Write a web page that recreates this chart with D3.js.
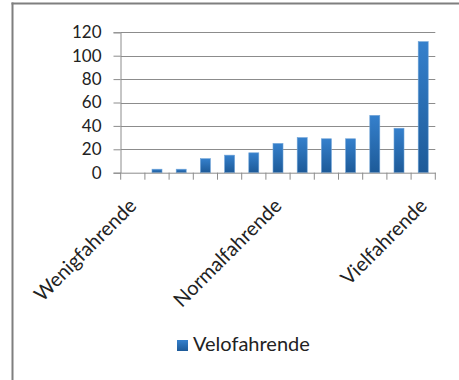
<!DOCTYPE html>
<html>
<head>
<meta charset="utf-8">
<script src="https://cdn.jsdelivr.net/npm/d3@7"></script>
<style>
  html, body { margin: 0; padding: 0; background: #fff; }
  svg { display: block; }
  text { font-family: Lato, "Open Sans", sans-serif; fill: #222; }
</style>
</head>
<body>
<script>
// ---- data ----
const categories = ["Wenigfahrende", "c2", "c3", "c4", "c5", "c6", "Normalfahrende", "c8", "c9", "c10", "c11", "c12", "Vielfahrende"];
const shownLabels = ["Wenigfahrende", "Normalfahrende", "Vielfahrende"];
const values = [0, 3, 3, 12, 15, 17, 25, 30, 29, 29, 49, 38, 112];
const seriesName = "Velofahrende";
const yTicks = [0, 20, 40, 60, 80, 100, 120];

const W = 459, H = 380;
const svg = d3.select("body").append("svg").attr("width", W).attr("height", H);

const defs = svg.append("defs");
const grad = defs.append("linearGradient").attr("id", "barGrad")
  .attr("x1", 0).attr("y1", 0).attr("x2", 0).attr("y2", 1);
grad.append("stop").attr("offset", "0%").attr("stop-color", "#3580CC");
grad.append("stop").attr("offset", "100%").attr("stop-color", "#1D5A98");

// frame
svg.append("line").attr("x1", 12.5).attr("x2", 12.5).attr("y1", 2.5).attr("y2", H)
  .attr("stroke", "#7f7f7f").attr("stroke-width", 2);
svg.append("line").attr("x1", 11.5).attr("x2", W).attr("y1", 3.5).attr("y2", 3.5)
  .attr("stroke", "#7f7f7f").attr("stroke-width", 2);

const x = d3.scaleBand().domain(categories).range([120.7, 435.3]).paddingInner(0).paddingOuter(0);
const y = d3.scaleLinear().domain([0, 120]).range([172.7, 32.3]);

// gridlines
svg.append("g").selectAll("line").data(yTicks.filter(d => d > 0)).join("line")
  .attr("x1", 120.7).attr("x2", 435.3)
  .attr("y1", d => Math.round(y(d)) + 0.5).attr("y2", d => Math.round(y(d)) + 0.5)
  .attr("stroke", "#8c8c8c").attr("stroke-width", 1);

// y axis
const yAxis = svg.append("g").attr("transform", "translate(120.5,0)")
  .call(d3.axisLeft(y).tickValues(yTicks).tickSize(7).tickPadding(12));
yAxis.select(".domain").attr("stroke", "#8c8c8c");
yAxis.selectAll(".tick line").attr("stroke", "#8c8c8c");
yAxis.selectAll(".tick text").attr("font-size", 17).attr("font-family", "Lato, sans-serif").attr("fill", "#222");

// bars
const bw = 10;
svg.append("g").selectAll("rect").data(values).join("rect")
  .attr("x", (d, i) => x(categories[i]) + x.bandwidth() / 2 - bw / 2)
  .attr("width", bw)
  .attr("y", d => y(d))
  .attr("height", d => y(0) - y(d))
  .attr("fill", "url(#barGrad)")
  .attr("stroke", "#6fa3d8").attr("stroke-width", 0.6);

// x axis
const xAxis = svg.append("g").attr("transform", "translate(0,172.7)")
  .call(d3.axisBottom(x).tickSize(0).tickFormat(""));
xAxis.select(".domain").attr("stroke", "#8c8c8c");
xAxis.selectAll(".tick").remove();
const edges = categories.map(c => x(c)).concat([x.range()[1]]);
xAxis.append("g").selectAll("line").data(edges).join("line")
  .attr("x1", d => d).attr("x2", d => d).attr("y1", 0).attr("y2", 7)
  .attr("stroke", "#8c8c8c");

// category labels
svg.append("g").selectAll("text").data(shownLabels).join("text")
  .attr("transform", d => `translate(${x(d) + x.bandwidth() / 2 + 5},207) rotate(-45)`)
  .attr("text-anchor", "end")
  .attr("font-size", 20)
  .text(d => d);

// legend
svg.append("rect").attr("x", 177).attr("y", 340).attr("width", 11).attr("height", 11)
  .attr("fill", "url(#barGrad)");
svg.append("text").attr("x", 193).attr("y", 351).attr("font-size", 20).text(seriesName);
</script>
</body>
</html>
